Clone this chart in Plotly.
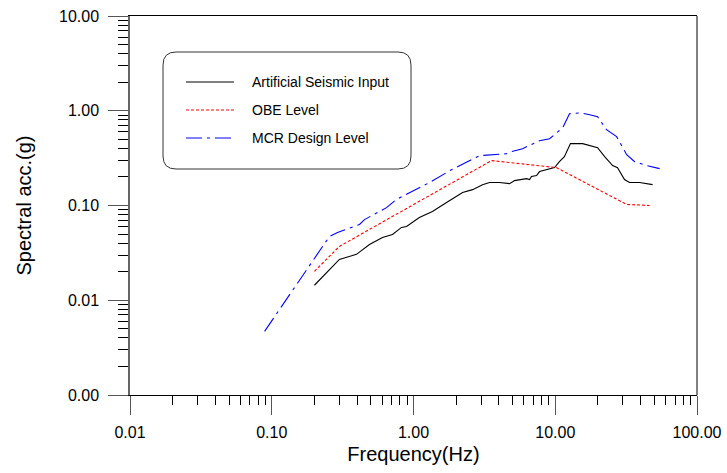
import plotly.graph_objects as go

# ---- data ----
asi_freq = [0.2, 0.30, 0.396, 0.489, 0.604, 0.711, 0.823, 0.893, 1.10, 1.36, 1.71, 2.22, 2.61, 3.07, 3.44,
            4.04, 4.76, 5.16, 6.27, 6.59, 6.80, 7.38, 7.75, 8.68, 9.89, 10.7, 11.6, 12.8, 15.6, 19.9,
            22.3, 25.4, 27.5, 30.8, 33.4, 39.4, 48.6]
asi_acc = [0.0144, 0.027, 0.0305, 0.0388, 0.046, 0.0495, 0.0587, 0.060, 0.0748, 0.0865, 0.1076, 0.137, 0.147,
           0.166, 0.175, 0.175, 0.170, 0.183, 0.192, 0.188, 0.202, 0.207, 0.228, 0.239, 0.251, 0.29, 0.328,
           0.45, 0.45, 0.408, 0.328, 0.264, 0.251, 0.188, 0.175, 0.175, 0.166]

obe_freq = [0.2, 0.30, 3.55, 10.2, 31.9, 46.3]
obe_acc = [0.0202, 0.037, 0.298, 0.251, 0.1026, 0.100]

mcr_freq = [0.089, 0.127, 0.255, 0.291, 0.416, 0.451, 0.645, 0.759, 1.16, 1.30, 1.80, 2.92, 4.53, 4.92,
            5.88, 7.75, 9.12, 11.3, 12.6, 14.9, 17.5, 19.9, 23.0, 27.1, 31.9, 36.3, 44.1, 54.5]
mcr_acc = [0.0047, 0.0103, 0.047, 0.052, 0.063, 0.071, 0.095, 0.116, 0.158, 0.175, 0.233, 0.336, 0.352,
           0.370, 0.398, 0.483, 0.507, 0.662, 0.93, 0.95, 0.908, 0.865, 0.631, 0.533, 0.344, 0.29, 0.264,
           0.245]

x_tickvals = [0.01, 0.1, 1, 10, 100]
x_ticktext = ["0.01", "0.10", "1.00", "10.00", "100.00"]
y_tickvals = [0.001, 0.01, 0.1, 1, 10]
y_ticktext = ["0.00", "0.01", "0.10", "1.00", "10.00"]

series_names = ["Artificial Seismic Input", "OBE Level", "MCR Design Level"]
series_colors = ["#000000", "#ff0000", "#0000ff"]
series_dash = ["solid", "3px,2px", "16px,5px,3px,5px"]

FONT = "Liberation Sans, Arial, sans-serif"

fig = go.Figure()
for name, fx, fy, col, dsh in zip(series_names, [asi_freq, obe_freq, mcr_freq],
                                   [asi_acc, obe_acc, mcr_acc], series_colors, series_dash):
    fig.add_trace(go.Scatter(x=fx, y=fy, mode="lines", name=name,
                             line=dict(color=col, width=1.1, dash=dsh), showlegend=False))

W, H = 727, 473
L, R, T, B = 130, 697, 16, 395
pw, ph = R - L, B - T


def px(x):
    return (x - L) / pw


def py(y):
    return (B - y) / ph


# rounded legend box
x0, x1, y0, y1, r = 163, 411, 52, 169, 13
path = (f"M {px(x0 + r)} {py(y0)} L {px(x1 - r)} {py(y0)} Q {px(x1)} {py(y0)} {px(x1)} {py(y0 + r)} "
        f"L {px(x1)} {py(y1 - r)} Q {px(x1)} {py(y1)} {px(x1 - r)} {py(y1)} "
        f"L {px(x0 + r)} {py(y1)} Q {px(x0)} {py(y1)} {px(x0)} {py(y1 - r)} "
        f"L {px(x0)} {py(y0 + r)} Q {px(x0)} {py(y0)} {px(x0 + r)} {py(y0)} Z")
shapes = [dict(type="path", xref="paper", yref="paper", path=path,
               line=dict(color="#333333", width=1), fillcolor="white"),
          dict(type="line", xref="paper", yref="paper", x0=1, x1=1, y0=0, y1=1,
               line=dict(color="black", width=1))]
annotations = []
rows = [82, 110, 138]
for name, col, dsh, ry in zip(series_names, series_colors, series_dash, rows):
    shapes.append(dict(type="line", xref="paper", yref="paper", x0=px(186), x1=px(234), y0=py(ry), y1=py(ry),
                       line=dict(color=col, width=1.1, dash=dsh)))
    annotations.append(dict(xref="paper", yref="paper", x=px(250), y=py(ry), text=name, showarrow=False,
                            xanchor="left", yanchor="middle", font=dict(family=FONT, size=14, color="black")))

fig.update_layout(
    width=W, height=H,
    margin=dict(l=L, r=W - R, t=T, b=H - B),
    paper_bgcolor="white", plot_bgcolor="white",
    font=dict(family=FONT, color="black"),
    shapes=shapes, annotations=annotations,
    xaxis=dict(type="log", range=[-2, 2], tickvals=x_tickvals, ticktext=x_ticktext, automargin=False,
               ticks="outside", ticklen=19, tickcolor="#555555", tickwidth=1,
               minor=dict(ticks="outside", ticklen=9, dtick="D1", tickcolor="black", showgrid=False),
               showgrid=False, zeroline=False, showline=True, linecolor="black", linewidth=1, mirror=True,
               tickfont=dict(size=16), ticklabelstandoff=4,
               title=dict(text="Frequency(Hz)", font=dict(size=20), standoff=6)),
    yaxis=dict(type="log", range=[-3, 1], tickvals=y_tickvals, ticktext=y_ticktext, automargin=False,
               ticks="outside", ticklen=20, tickcolor="#555555", tickwidth=1,
               minor=dict(ticks="outside", ticklen=10, dtick="D1", tickcolor="black", showgrid=False),
               showgrid=False, zeroline=False, showline=True, linecolor="#666666", linewidth=1.5,
               tickfont=dict(size=16), ticklabelstandoff=6,
               title=dict(text="Spectral acc.(g)", font=dict(size=20), standoff=22)),
)

fig.write_html("out.html")
